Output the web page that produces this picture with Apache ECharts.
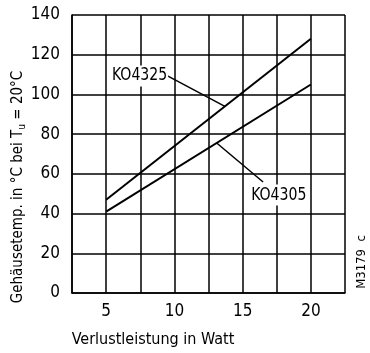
<!DOCTYPE html>
<html>
<head>
<meta charset="utf-8">
<script src="https://cdn.jsdelivr.net/npm/echarts@6/dist/echarts.min.js"></script>
<style>
html,body{margin:0;padding:0;background:#fff;}
#main{width:370px;height:353px;}
</style>
</head>
<body>
<div id="main"></div>
<script>
// Leistung in W
var watt = [5, 20];
// Gehäusetemperatur in °C
var ko4325 = [47, 128];
var ko4305 = [41, 105];
var xTicks = [5, 10, 15, 20];

var FONT = '"Liberation Sans Narrow", "DejaVu Sans Condensed", "Liberation Sans", sans-serif';

var chart = echarts.init(document.getElementById('main'));

function pairs(xs, ys){
	var out = [];
	for (var i = 0; i < xs.length; i++) out.push([xs[i], ys[i]]);
	return out;
}

var option = {
	animation: false,
	grid: {left: 72, top: 15, right: 25, bottom: 60},
	xAxis: {
		type: 'value', min: 2.5, max: 22.5, interval: 2.5,
		axisLine: {show: true, lineStyle: {color: '#000', width: 1.5}},
		axisTick: {show: false},
		splitLine: {show: true, lineStyle: {color: '#000', width: 1.5}},
		axisLabel: {
			margin: 10, fontSize: 17, color: '#000', fontFamily: FONT,
			formatter: function(v){ return xTicks.indexOf(v) >= 0 ? String(v) : ''; }
		}
	},
	yAxis: {
		type: 'value', min: 0, max: 140, interval: 20,
		axisLine: {show: true, lineStyle: {color: '#000', width: 1.5}},
		axisTick: {show: false},
		splitLine: {show: true, lineStyle: {color: '#000', width: 1.5}},
		axisLabel: {margin: 12, fontSize: 17, color: '#000', fontFamily: FONT}
	},
	series: [
		{name: 'KO4325', type: 'line', data: pairs(watt, ko4325), symbol: 'none',
		 lineStyle: {color: '#000', width: 2}},
		{name: 'KO4305', type: 'line', data: pairs(watt, ko4305), symbol: 'none',
		 lineStyle: {color: '#000', width: 2}}
	]
};
chart.setOption(option);

function px(x, y){ return chart.convertToPixel({gridIndex: 0}, [x, y]); }
function onLine(xs, ys, x){ return ys[0] + (ys[1] - ys[0]) * (x - xs[0]) / (xs[1] - xs[0]); }

// Beschriftungen mit Hinweislinien
var a1 = px(13.7, onLine(watt, ko4325, 13.7));
var t1 = px(9.5, 109.3);
var c1 = px(7.45, 109.3);
var a2 = px(13.1, onLine(watt, ko4305, 13.1));
var t2 = px(16.5, 55.9);
var c2 = px(17.65, 49.3);

chart.setOption({
	graphic: [
		{type: 'line', shape: {x1: t1[0], y1: t1[1], x2: a1[0], y2: a1[1]}, style: {stroke: '#000', lineWidth: 1.5}, z: 100},
		{type: 'line', shape: {x1: a2[0], y1: a2[1], x2: t2[0], y2: t2[1]}, style: {stroke: '#000', lineWidth: 1.5}, z: 100},
		{type: 'text', x: c1[0], y: c1[1], z: 101, scaleX: 0.92,
		 style: {text: 'KO4325', font: '17px ' + FONT, fill: '#000', align: 'center', verticalAlign: 'middle',
		         backgroundColor: '#fff', padding: [2, 1, 2, 1]}},
		{type: 'text', x: c2[0], y: c2[1], z: 101, scaleX: 0.92,
		 style: {text: 'KO4305', font: '17px ' + FONT, fill: '#000', align: 'center', verticalAlign: 'middle',
		         backgroundColor: '#fff', padding: [2, 1, 2, 1]}},
		{type: 'text', x: 153, y: 340,
		 style: {text: 'Verlustleistung in Watt', font: '16px ' + FONT, fill: '#000', align: 'center', verticalAlign: 'middle'}},
		{type: 'text', x: 18, y: 187, rotation: Math.PI / 2,
		 style: {
			 text: 'Gehäusetemp. in °C bei T{s|u} = 20°C',
			 font: '15px ' + FONT, fill: '#000', align: 'center', verticalAlign: 'middle',
			 rich: {s: {fontSize: 10, fontFamily: FONT, verticalAlign: 'bottom', padding: [8, 0, 0, 0]}}
		 }},
		{type: 'text', x: 362, y: 262, rotation: Math.PI / 2,
		 style: {text: 'M3179  c', font: '13px ' + FONT, fill: '#000', align: 'center', verticalAlign: 'middle'}}
	]
});
</script>
</body>
</html>
